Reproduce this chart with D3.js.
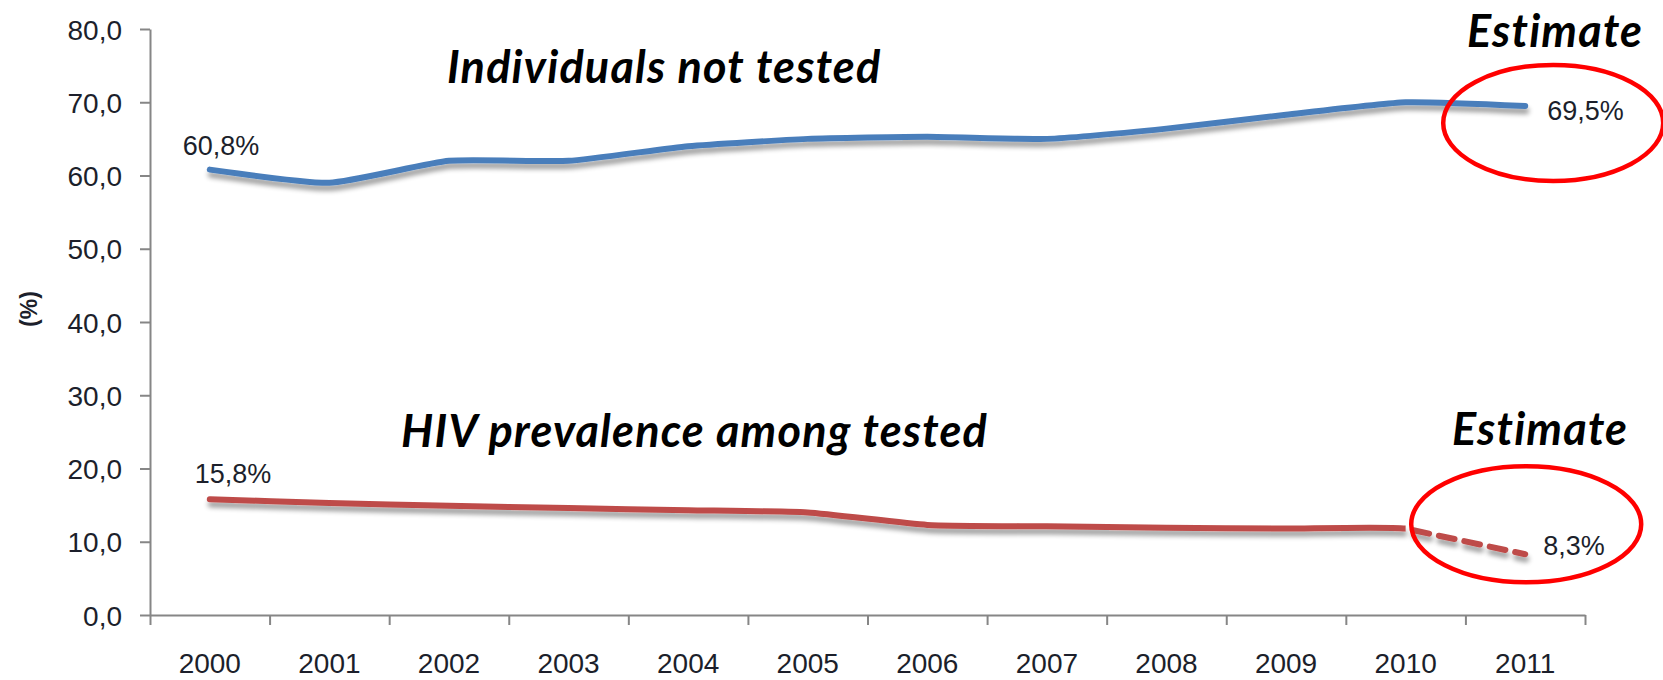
<!DOCTYPE html>
<html>
<head>
<meta charset="utf-8">
<script src="https://cdn.jsdelivr.net/npm/d3@7/dist/d3.min.js"></script>
<style>
    body { margin: 0; background: #fff; }
    .tick-label { font-family: "Liberation Sans", Arial, sans-serif; fill: #1c1f2b; }
    .note { font-family: Lato, "Open Sans", sans-serif; font-weight: 700; font-style: italic; fill: #000; letter-spacing: 1.2px; }
</style>
</head>
<body>
<div id="chart"></div>
<script>

// data
var years = ["2000", "2001", "2002", "2003", "2004", "2005", "2006", "2007", "2008", "2009", "2010", "2011"];
var notTested = [60.8, 59.0, 62.0, 62.0, 64.0, 65.0, 65.3, 65.0, 66.4, 68.3, 70.0, 69.5];
var hivPrevalence = [15.8, 15.3, 14.9, 14.6, 14.3, 14.0, 12.3, 12.1, 11.9, 11.8, 11.8, 8.3];
var yTicks = [0, 10, 20, 30, 40, 50, 60, 70, 80];
var estimateFrom = "2010";

var width = 1663, height = 680;
var margin = { top: 29, right: 78, bottom: 65, left: 150 };
var plotW = width - margin.left - margin.right,
    plotH = height - margin.top - margin.bottom;

var svg = d3.select("#chart").append("svg")
    .attr("width", width)
    .attr("height", height);

var defs = svg.append("defs");

// soft drop shadow under the lines (Excel style)
var shadow = defs.append("filter")
    .attr("id", "shadow")
    .attr("x", "-10%").attr("y", "-50%")
    .attr("width", "120%").attr("height", "200%");
shadow.append("feGaussianBlur").attr("in", "SourceAlpha").attr("stdDeviation", 2.5).attr("result", "blur");
shadow.append("feOffset").attr("in", "blur").attr("dx", 1).attr("dy", 5).attr("result", "off");
shadow.append("feComponentTransfer").attr("in", "off").attr("result", "soft")
    .append("feFuncA").attr("type", "linear").attr("slope", 0.4);
var merge = shadow.append("feMerge");
merge.append("feMergeNode").attr("in", "soft");
merge.append("feMergeNode").attr("in", "SourceGraphic");

var g = svg.append("g")
    .attr("transform", "translate(" + margin.left + "," + margin.top + ")");

var locale = d3.formatLocale({ decimal: ",", thousands: ".", grouping: [3], currency: ["", "%"] });
var fmtAxis = locale.format(".1f");

// scales
var x = d3.scaleBand().domain(years).range([0, plotW]);
var xEdge = d3.scaleLinear().domain([0, years.length]).range([0, plotW]);
var y = d3.scaleLinear().domain([0, 80]).range([plotH, 0]);
var cx = function(d) { return x(d) + x.bandwidth() / 2; };

// y axis
var yAxis = g.append("g")
    .call(d3.axisLeft(y).tickValues(yTicks).tickSize(10).tickSizeOuter(0).tickPadding(18).tickFormat(fmtAxis));
yAxis.selectAll("text").attr("class", "tick-label").style("font-size", "28px").attr("dy", "0.36em");

// x axis: ticks between categories, labels centred in them
var xAxis = g.append("g")
    .attr("transform", "translate(0," + plotH + ")")
    .call(d3.axisBottom(xEdge).tickValues(d3.range(years.length + 1)).tickSize(10).tickSizeOuter(0).tickFormat(""));

var xLabels = g.append("g")
    .attr("transform", "translate(0," + plotH + ")")
    .call(d3.axisBottom(x).tickSize(0).tickPadding(58));
xLabels.select(".domain").remove();
xLabels.selectAll("text").attr("class", "tick-label").style("font-size", "28px").attr("dy", "0");

g.selectAll(".domain, .tick line").attr("stroke", "#868686").attr("stroke-width", 2);

// y axis title
svg.append("text")
    .attr("class", "tick-label")
    .attr("transform", "translate(37,309) rotate(-90)")
    .attr("text-anchor", "middle")
    .style("font-size", "23px")
    .style("font-weight", "bold")
    .text("(%)");

// lines
var line = d3.line()
    .x(function(d) { return cx(d.year); })
    .y(function(d) { return y(d.value); })
    .curve(d3.curveCardinal.tension(0.5));

var blueData = years.map(function(yr, i) { return { year: yr, value: notTested[i] }; });
var redData = years.map(function(yr, i) { return { year: yr, value: hivPrevalence[i] }; });

// clip so the red series turns dashed after the last measured year
var splitX = cx(estimateFrom);
defs.append("clipPath").attr("id", "clip-measured")
    .append("rect").attr("x", -20).attr("y", -40).attr("width", splitX + 20).attr("height", plotH + 80);

g.append("path")
    .datum(blueData)
    .attr("d", line)
    .attr("fill", "none")
    .attr("stroke", "#4A7EBB")
    .attr("stroke-width", 6)
    .attr("stroke-linecap", "round")
    .attr("stroke-linejoin", "round")
    .attr("filter", "url(#shadow)");

var redGroup = g.append("g").attr("filter", "url(#shadow)");
redGroup.append("path")
    .datum(redData)
    .attr("d", line)
    .attr("clip-path", "url(#clip-measured)")
    .attr("fill", "none")
    .attr("stroke", "#BE4B48")
    .attr("stroke-width", 6)
    .attr("stroke-linecap", "round");
redGroup.append("path")
    .datum(redData.slice(years.indexOf(estimateFrom)))
    .attr("d", line)
    .attr("fill", "none")
    .attr("stroke", "#BE4B48")
    .attr("stroke-width", 6)
    .attr("stroke-dasharray", "16,10")
    .attr("stroke-dashoffset", -8)
    .attr("stroke-linecap", "round");

// data labels on first and last points
var pctFmt = function(v) { return fmtAxis(v) + "%"; };
var lastIdx = years.length - 1;

function addLabel(data, i, dx, dy) {
    g.append("text")
        .attr("class", "tick-label")
        .attr("x", cx(data[i].year) + dx)
        .attr("y", y(data[i].value) + dy)
        .style("font-size", "27px")
        .text(pctFmt(data[i].value));
}
addLabel(blueData, 0, -27, -15);
addLabel(redData, 0, -15, -16);
addLabel(blueData, lastIdx, 22, 14);
addLabel(redData, lastIdx, 18, 1);

// red ellipses around the estimates
var lastX = cx(years[lastIdx]);
g.append("ellipse")
    .attr("cx", lastX + 28).attr("cy", y(notTested[lastIdx]) + 17)
    .attr("rx", 110).attr("ry", 58)
    .attr("fill", "none").attr("stroke", "#FF0000").attr("stroke-width", 4.5);
g.append("ellipse")
    .attr("cx", lastX + 1).attr("cy", y(hivPrevalence[lastIdx]) - 30)
    .attr("rx", 115).attr("ry", 58)
    .attr("fill", "none").attr("stroke", "#FF0000").attr("stroke-width", 4.5);

// annotations
svg.append("text").attr("class", "note").attr("x", 447).attr("y", 83).style("font-size", "45px").text("Individuals not tested");
svg.append("text").attr("class", "note").attr("x", 401).attr("y", 447).style("font-size", "45px").text("HIV prevalence among tested");
svg.append("text").attr("class", "note").attr("x", 1467).attr("y", 47).style("font-size", "45px").text("Estimate");
svg.append("text").attr("class", "note").attr("x", 1452).attr("y", 445).style("font-size", "45px").text("Estimate");

</script>
</body>
</html>
